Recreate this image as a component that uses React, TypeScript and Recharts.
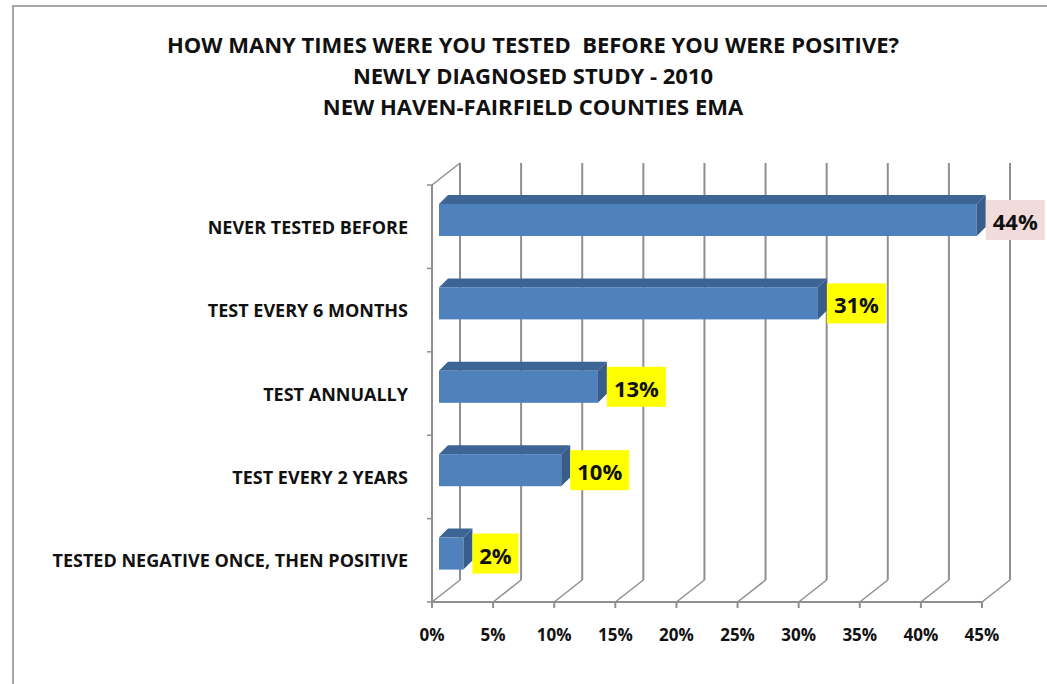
import React from "react";
import {Bar, BarChart, CartesianGrid, LabelList, XAxis, YAxis} from "recharts";

const categories = [
	"NEVER TESTED BEFORE",
	"TEST EVERY 6 MONTHS",
	"TEST ANNUALLY",
	"TEST EVERY 2 YEARS",
	"TESTED NEGATIVE ONCE, THEN POSITIVE",
];
const percents = [44, 31, 13, 10, 2];
const xTicks = [0, 5, 10, 15, 20, 25, 30, 35, 40, 45];
const titleLines = [
	"HOW MANY TIMES WERE YOU TESTED  BEFORE YOU WERE POSITIVE?",
	"NEWLY DIAGNOSED STUDY - 2010",
	"NEW HAVEN-FAIRFIELD COUNTIES EMA",
];

const data = categories.map((name, i) => ({name, value: percents[i]}));

const W = 1047;
const H = 684;
const MARGIN = {top: 185, right: 65, bottom: 22, left: 0};
const X_AXIS_H = 60;
const Y_AXIS_W = 432;
const BAND = (H - MARGIN.top - MARGIN.bottom - X_AXIS_H) / categories.length;

// 3d look: back wall offset and bar offsets
const WALL_DX = 28;
const WALL_DY = -22;
const BAR_OX = 7;
const BAR_OY = -7;
const BAR_DX = 9;
const BAR_DY = -9;

const GRID = "#8f8f8f";
const FONT = "'Open Sans', Lato, sans-serif";

const WallLine = (props: any) => {
	const {x1, y1, y2} = props;
	return <g key={props.key ?? `wall-${x1}`}>
		<line x1={x1 + WALL_DX} y1={y1 + WALL_DY} x2={x1 + WALL_DX} y2={y2 + WALL_DY} stroke={GRID} strokeWidth={2}/>
		<line x1={x1} y1={y2} x2={x1 + WALL_DX} y2={y2 + WALL_DY} stroke={GRID} strokeWidth={1.5}/>
	</g>
};

const Bar3D = (props: any) => {
	const {x, y, width, height} = props;
	const fx = x + BAR_OX;
	const fy = y + BAR_OY;
	const top = `${fx},${fy} ${fx + BAR_DX},${fy + BAR_DY} ${fx + width + BAR_DX},${fy + BAR_DY} ${fx + width},${fy}`;
	const side = `${fx + width},${fy} ${fx + width + BAR_DX},${fy + BAR_DY} ${fx + width + BAR_DX},${fy + height + BAR_DY} ${fx + width},${fy + height}`;
	return <g>
		<polygon points={top} fill="#3c6494"/>
		<rect x={fx} y={fy} width={width} height={height} fill="#4f81bd"/>
		<polygon points={side} fill="#385d8a"/>
	</g>
};

const ValueLabel = (props: any) => {
	const {x, y, width, height, value} = props;
	const text = `${value}%`;
	const boxW = String(value).length > 1 ? 59 : 46;
	const boxH = 40;
	const bx = x + width + BAR_OX + BAR_DX;
	const cy = y + BAR_OY + height / 2;
	const fill = value === Math.max(...percents) ? "#f2dcdb" : "#ffff00";
	return <g>
		<rect x={bx} y={cy - boxH / 2} width={boxW} height={boxH} fill={fill}/>
		<text x={bx + boxW / 2} y={cy + 1} textAnchor="middle" dominantBaseline="central"
					fontFamily={FONT} fontWeight="bold" fontSize={22} fill="#111">{text}</text>
	</g>
};

const CategoryTick = (props: any) => {
	const {x, y, payload, index} = props;
	const axisX = x + 24;
	const b = y - BAND / 2;
	return <g>
		<text x={x} y={y} textAnchor="end" dominantBaseline="central" fontFamily={FONT}
					fontWeight="bold" fontSize={18} fill="#111">{payload.value}</text>
		<line x1={axisX - 5} y1={b} x2={axisX} y2={b} stroke={GRID} strokeWidth={1.5}/>
		{index === 0 &&
			<line x1={axisX} y1={b} x2={axisX + WALL_DX} y2={b + WALL_DY} stroke={GRID} strokeWidth={1.5}/>}
		{index === categories.length - 1 &&
			<line x1={axisX - 5} y1={y + BAND / 2} x2={axisX} y2={y + BAND / 2} stroke={GRID} strokeWidth={1.5}/>}
	</g>
};

export default function App() {
	return <div style={{position: "absolute", left: 0, top: 0, width: W, height: H, background: "#fff", overflow: "hidden"}}>
		<div style={{position: "absolute", left: 12, top: 5, width: W, height: H, borderLeft: "2px solid #a6a6a6", borderTop: "2px solid #a6a6a6"}}/>
		<div style={{position: "absolute", left: 0, top: 29, width: 1066, textAlign: "center", fontFamily: FONT, fontWeight: "bold", fontSize: 22, lineHeight: "31px", color: "#111", whiteSpace: "pre"}}>
			{titleLines.map((t) => <div key={t}>{t}</div>)}
		</div>
		<div style={{position: "absolute", left: 0, top: 0}}>
			<BarChart width={W} height={H} data={data} layout="vertical" margin={MARGIN} barSize={32}>
				<CartesianGrid horizontal={false} vertical={WallLine}/>
				<XAxis type="number" domain={[0, 45]} ticks={xTicks} interval={0} height={X_AXIS_H}
							 tickFormatter={(v) => `${v}%`} stroke={GRID} strokeWidth={2} tickSize={6} tickMargin={21}
							 tick={{fontFamily: FONT, fontWeight: "bold", fontSize: 17, fill: "#111"}}/>
				<YAxis type="category" dataKey="name" width={Y_AXIS_W} stroke={GRID} strokeWidth={2}
							 tickLine={false} tickSize={0} tickMargin={24} tick={CategoryTick} interval={0}/>
				<Bar dataKey="value" shape={Bar3D} isAnimationActive={false}>
					<LabelList dataKey="value" content={ValueLabel}/>
				</Bar>
			</BarChart>
		</div>
	</div>
}
